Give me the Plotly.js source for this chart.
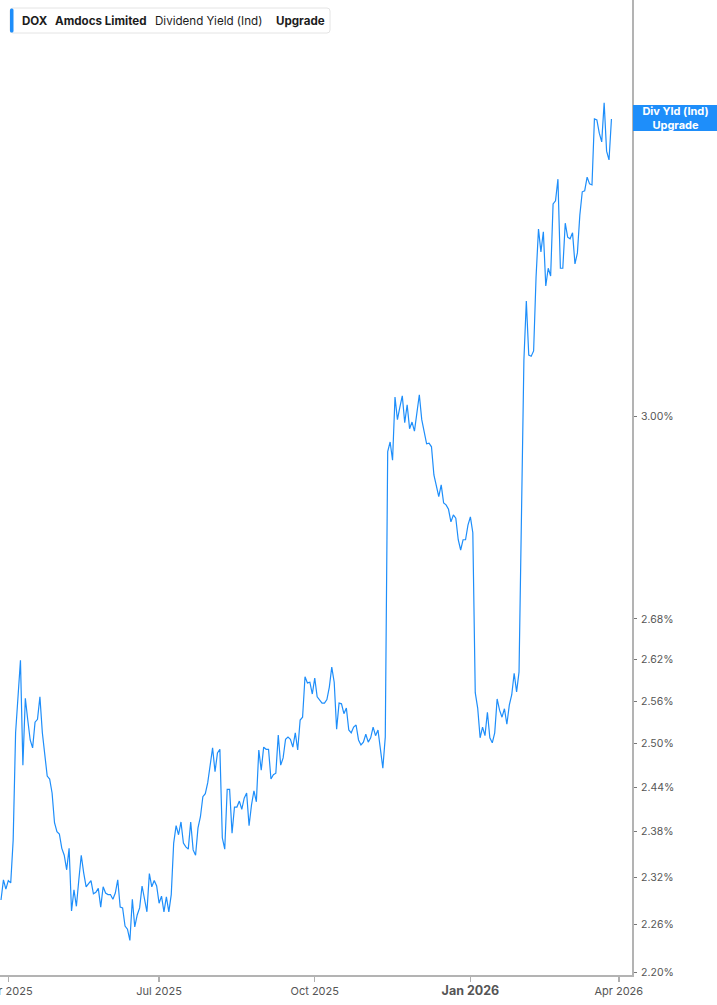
<!DOCTYPE html>
<html>
<head>
<meta charset="utf-8">
<script src="https://cdn.plot.ly/plotly-3.0.1.min.js"></script>
<style>
  html, body { margin: 0; padding: 0; background: #ffffff; }
  #chart { width: 717px; height: 1005px; }
</style>
</head>
<body>
<div id="chart"></div>
<script>
// ---- Data ----
const ticker = 'DOX';
const company = 'Amdocs Limited';
const metric = 'Dividend Yield (Ind)';
const lastLabel = ['Div Yld (Ind)', 'Upgrade'];

const dates = [
  '2025-03-27','2025-03-28','2025-03-31',
  '2025-04-01','2025-04-02','2025-04-03','2025-04-04','2025-04-07','2025-04-08','2025-04-09','2025-04-10','2025-04-11','2025-04-14','2025-04-15','2025-04-16','2025-04-17','2025-04-21','2025-04-22','2025-04-23','2025-04-24','2025-04-25','2025-04-28','2025-04-29','2025-04-30',
  '2025-05-01','2025-05-02','2025-05-05','2025-05-06','2025-05-07','2025-05-08','2025-05-09','2025-05-12','2025-05-13','2025-05-14','2025-05-15','2025-05-16','2025-05-19','2025-05-20','2025-05-21','2025-05-22','2025-05-23','2025-05-27','2025-05-28','2025-05-29','2025-05-30',
  '2025-06-02','2025-06-03','2025-06-04','2025-06-05','2025-06-06','2025-06-09','2025-06-10','2025-06-11','2025-06-12','2025-06-13','2025-06-16','2025-06-17','2025-06-18','2025-06-20','2025-06-23','2025-06-24','2025-06-25','2025-06-26','2025-06-27','2025-06-30',
  '2025-07-01','2025-07-02','2025-07-03','2025-07-07','2025-07-08','2025-07-09','2025-07-10','2025-07-11','2025-07-14','2025-07-15','2025-07-16','2025-07-17','2025-07-18','2025-07-21','2025-07-22','2025-07-23','2025-07-24','2025-07-25','2025-07-28','2025-07-29','2025-07-30','2025-07-31',
  '2025-08-01','2025-08-04','2025-08-05','2025-08-06','2025-08-07','2025-08-08','2025-08-11','2025-08-12','2025-08-13','2025-08-14','2025-08-15','2025-08-18','2025-08-19','2025-08-20','2025-08-21','2025-08-22','2025-08-25','2025-08-26','2025-08-27','2025-08-28','2025-08-29',
  '2025-09-02','2025-09-03','2025-09-04','2025-09-05','2025-09-08','2025-09-09','2025-09-10','2025-09-11','2025-09-12','2025-09-15','2025-09-16','2025-09-17','2025-09-18','2025-09-19','2025-09-22','2025-09-23','2025-09-24','2025-09-25','2025-09-26','2025-09-29','2025-09-30',
  '2025-10-01','2025-10-02','2025-10-03','2025-10-06','2025-10-07','2025-10-08','2025-10-09','2025-10-10','2025-10-13','2025-10-14','2025-10-15','2025-10-16','2025-10-17','2025-10-20','2025-10-21','2025-10-22','2025-10-23','2025-10-24','2025-10-27','2025-10-28','2025-10-29','2025-10-30','2025-10-31',
  '2025-11-03','2025-11-04','2025-11-05','2025-11-06','2025-11-07','2025-11-10','2025-11-11','2025-11-12','2025-11-13','2025-11-14','2025-11-17','2025-11-18','2025-11-19','2025-11-20','2025-11-21','2025-11-24','2025-11-25','2025-11-26','2025-11-28',
  '2025-12-01','2025-12-02','2025-12-03','2025-12-04','2025-12-05','2025-12-08','2025-12-09','2025-12-10','2025-12-11','2025-12-12','2025-12-15','2025-12-16','2025-12-17','2025-12-18','2025-12-19','2025-12-22','2025-12-23','2025-12-24','2025-12-26','2025-12-29','2025-12-30','2025-12-31',
  '2026-01-02','2026-01-05','2026-01-06','2026-01-07','2026-01-08','2026-01-09','2026-01-12','2026-01-13','2026-01-14','2026-01-15','2026-01-16','2026-01-20','2026-01-21','2026-01-22','2026-01-23','2026-01-26','2026-01-27','2026-01-28','2026-01-29','2026-01-30',
  '2026-02-02','2026-02-03','2026-02-04','2026-02-05','2026-02-06','2026-02-09','2026-02-10','2026-02-11','2026-02-12','2026-02-13','2026-02-17','2026-02-18','2026-02-19','2026-02-20','2026-02-23','2026-02-24','2026-02-25','2026-02-26','2026-02-27',
  '2026-03-02','2026-03-03','2026-03-04','2026-03-05','2026-03-06','2026-03-09','2026-03-10','2026-03-11','2026-03-12','2026-03-13','2026-03-16','2026-03-17','2026-03-18','2026-03-19','2026-03-20','2026-03-23','2026-03-24','2026-03-25','2026-03-26','2026-03-27'
];

const divYield = [
  2.291, 2.317, 2.305,
  2.316, 2.313, 2.369, 2.515, 2.566, 2.619, 2.470, 2.564, 2.533, 2.505, 2.494, 2.530, 2.534, 2.566, 2.515, 2.481, 2.455, 2.451, 2.432, 2.392, 2.380,
  2.377, 2.358, 2.349, 2.330, 2.358, 2.277, 2.304, 2.283, 2.317, 2.349, 2.326, 2.308, 2.312, 2.316, 2.299, 2.301, 2.306, 2.282, 2.308, 2.300, 2.298,
  2.298, 2.292, 2.300, 2.317, 2.282, 2.281, 2.258, 2.254, 2.240, 2.292, 2.257, 2.272, 2.281, 2.309, 2.294, 2.276, 2.325, 2.308, 2.316, 2.309,
  2.287, 2.296, 2.276, 2.295, 2.276, 2.298, 2.365, 2.388, 2.376, 2.393, 2.365, 2.360, 2.357, 2.393, 2.356, 2.349, 2.385, 2.400, 2.427, 2.431, 2.446, 2.468,
  2.494, 2.461, 2.487, 2.492, 2.372, 2.357, 2.437, 2.437, 2.378, 2.413, 2.413, 2.421, 2.410, 2.425, 2.432, 2.388, 2.416, 2.435, 2.420, 2.491, 2.463,
  2.495, 2.492, 2.492, 2.451, 2.457, 2.459, 2.512, 2.470, 2.480, 2.506, 2.509, 2.506, 2.495, 2.515, 2.491, 2.533, 2.537, 2.595, 2.586, 2.587, 2.570,
  2.593, 2.566, 2.562, 2.557, 2.557, 2.562, 2.580, 2.609, 2.587, 2.520, 2.557, 2.556, 2.542, 2.550, 2.519, 2.515, 2.523, 2.526, 2.505, 2.498, 2.502, 2.513, 2.502,
  2.508, 2.523, 2.511, 2.519, 2.495, 2.466, 2.509, 2.942, 2.958, 2.928, 3.033, 2.995, 3.016, 3.035, 2.990, 3.020, 2.980, 2.991, 2.976,
  3.011, 3.037, 2.995, 2.974, 2.955, 2.956, 2.950, 2.904, 2.886, 2.869, 2.888, 2.859, 2.856, 2.849, 2.829, 2.840, 2.835, 2.801, 2.785, 2.801, 2.801, 2.824,
  2.837, 2.812, 2.572, 2.550, 2.508, 2.523, 2.511, 2.544, 2.508, 2.501, 2.515, 2.563, 2.547, 2.537, 2.549, 2.527, 2.554, 2.569, 2.600, 2.573,
  2.602, 2.838, 3.096, 3.200, 3.105, 3.103, 3.112, 3.243, 3.331, 3.289, 3.326, 3.227, 3.259, 3.245, 3.378, 3.384, 3.425, 3.259, 3.259,
  3.342, 3.316, 3.313, 3.324, 3.267, 3.287, 3.357, 3.401, 3.403, 3.429, 3.416, 3.414, 3.542, 3.540, 3.514, 3.497, 3.574, 3.479, 3.462, 3.542
];

// market holidays (removed from the time axis, as in the reference)
const holidays = ['2025-04-18','2025-05-26','2025-06-19','2025-07-04','2025-09-01','2025-11-27','2025-12-25','2026-01-01','2026-01-19','2026-02-16','2026-04-03'];

const xTickVals = ['2025-04-01','2025-07-01','2025-10-01','2026-01-02','2026-04-01'];
const xTickText = ['Apr 2025','Jul 2025','Oct 2025','<span style="font-size:12.5px;font-weight:bold">Jan 2026</span>','Apr 2026'];

const yTickVals = [2.20, 2.26, 2.32, 2.38, 2.44, 2.50, 2.56, 2.62, 2.68, 3.00];
const yTickText = ['2.20%','2.26%','2.32%','2.38%','2.44%','2.50%','2.56%','2.62%','2.68%','3.00%'];

// ---- Styling / layout ----
const W = 717, H = 1005;
const M = { l: 0, r: 85, t: 0, b: 30 };
const plotW = W - M.l - M.r, plotH = H - M.t - M.b;
const px = p => (p - M.l) / plotW;          // page pixel -> paper x
const py = p => (H - M.b - p) / plotH;      // page pixel -> paper y

const BLUE = '#1e8efa';
const FONT = 'Inter, Roboto, "Noto Sans", sans-serif';

function roundRect(x0, y0, x1, y1, r) {
  const X = v => px(v), Y = v => py(v);
  return 'M' + X(x0 + r) + ',' + Y(y0) +
    ' L' + X(x1 - r) + ',' + Y(y0) +
    ' Q' + X(x1) + ',' + Y(y0) + ' ' + X(x1) + ',' + Y(y0 + r) +
    ' L' + X(x1) + ',' + Y(y1 - r) +
    ' Q' + X(x1) + ',' + Y(y1) + ' ' + X(x1 - r) + ',' + Y(y1) +
    ' L' + X(x0 + r) + ',' + Y(y1) +
    ' Q' + X(x0) + ',' + Y(y1) + ' ' + X(x0) + ',' + Y(y1 - r) +
    ' L' + X(x0) + ',' + Y(y0 + r) +
    ' Q' + X(x0) + ',' + Y(y0) + ' ' + X(x0 + r) + ',' + Y(y0) + ' Z';
}

const trace = {
  type: 'scatter',
  mode: 'lines',
  x: dates,
  y: divYield,
  line: { color: BLUE, width: 1.2 },
  hoverinfo: 'x+y'
};

const headerY = py(21);
const headerFont = { family: FONT, size: 11.6, color: '#1c1c1c' };
function headerText(x, text) {
  return { xref: 'paper', yref: 'paper', x: px(x), y: headerY, xanchor: 'left', yanchor: 'middle',
           text: text, showarrow: false, borderpad: 0, font: headerFont };
}

const layout = {
  width: W, height: H,
  margin: { l: M.l, r: M.r, t: M.t, b: M.b, pad: 0 },
  paper_bgcolor: '#ffffff',
  plot_bgcolor: '#ffffff',
  showlegend: false,
  xaxis: {
    type: 'date',
    range: ['2025-03-26 14:05', '2026-04-09 10:48'],
    rangebreaks: [
      { bounds: ['sat', 'mon'] },
      { values: holidays }
    ],
    tickmode: 'array',
    tickvals: xTickVals,
    ticktext: xTickText,
    ticklabeloverflow: 'allow',
    ticks: 'outside',
    ticklen: 5,
    tickwidth: 1.5,
    tickcolor: '#b0b0b0',
    showline: true,
    linecolor: '#b3b3b3',
    linewidth: 2,
    showgrid: false,
    zeroline: false,
    tickfont: { family: FONT, size: 11, color: '#555555' },
    fixedrange: true
  },
  yaxis: {
    type: 'log',
    side: 'right',
    range: [0.341866, 0.578069],
    tickmode: 'array',
    tickvals: yTickVals,
    ticktext: yTickText,
    ticklabeloverflow: 'allow',
    ticks: 'outside',
    ticklen: 3,
    tickwidth: 1,
    tickcolor: '#777777',
    ticklabelstandoff: 2,
    showline: true,
    linecolor: '#b3b3b3',
    linewidth: 2,
    showgrid: false,
    zeroline: false,
    tickfont: { family: FONT, size: 10.5, color: '#555555' },
    fixedrange: true
  },
  shapes: [
    { type: 'path', xref: 'paper', yref: 'paper', path: roundRect(10, 8, 330, 33, 3),
      fillcolor: '#ffffff', line: { color: '#e4e4e4', width: 1 } },
    { type: 'path', xref: 'paper', yref: 'paper', path: roundRect(10, 8.5, 13.5, 32.5, 1.5),
      fillcolor: BLUE, line: { width: 0 } }
  ],
  annotations: [
    headerText(20.5, '<b>' + ticker + '</b>'),
    headerText(54, '<b>' + company + '</b>'),
    headerText(154, metric),
    headerText(275, '<b>Upgrade</b>'),
    { xref: 'paper', yref: 'y', x: 1, xshift: 0.5,
      y: Math.log10(divYield[divYield.length - 1]),
      xanchor: 'left', yanchor: 'middle', yshift: 0.5,
      width: 85, height: 26, align: 'center', valign: 'middle',
      bgcolor: BLUE, borderpad: 0, borderwidth: 0,
      text: '<b>' + lastLabel[0] + '</b><br><b>' + lastLabel[1] + '</b>',
      showarrow: false, font: { family: FONT, size: 11, color: '#ffffff' } }
  ]
};

Plotly.newPlot('chart', [trace], layout, { displayModeBar: false, staticPlot: true });
</script>
</body>
</html>
